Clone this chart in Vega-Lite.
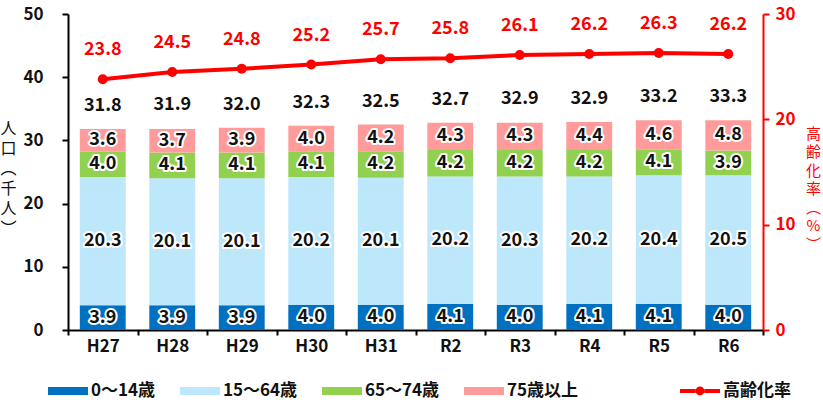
{
  "$schema": "https://vega.github.io/schema/vega-lite/v6.json",
  "width": 695,
  "height": 316,
  "autosize": {"type": "none"},
  "padding": {"left": 68, "top": 14, "right": 60, "bottom": 80},
  "background": "white",
  "config": {
    "view": {"stroke": null},
    "font": "Noto Sans CJK JP",
    "axis": {"grid": false, "labelFont": "Noto Sans CJK JP", "labelFontWeight": "bold", "labelFontSize": 17, "labelColor": "#111", "domainColor": "#000", "domainWidth": 2, "tickColor": "#000", "tickWidth": 2, "titleFont": "Noto Sans CJK JP"},
    "legend": {"labelFont": "Noto Sans CJK JP", "labelFontWeight": "bold", "labelFontSize": 17, "labelColor": "#111"}
  },
  "datasets": {
    "pop": [
      {"year": "H27", "group": "0～14歳", "ord": 1, "value": 3.9},
      {"year": "H27", "group": "15～64歳", "ord": 2, "value": 20.3},
      {"year": "H27", "group": "65～74歳", "ord": 3, "value": 4.0},
      {"year": "H27", "group": "75歳以上", "ord": 4, "value": 3.6},
      {"year": "H28", "group": "0～14歳", "ord": 1, "value": 3.9},
      {"year": "H28", "group": "15～64歳", "ord": 2, "value": 20.1},
      {"year": "H28", "group": "65～74歳", "ord": 3, "value": 4.1},
      {"year": "H28", "group": "75歳以上", "ord": 4, "value": 3.7},
      {"year": "H29", "group": "0～14歳", "ord": 1, "value": 3.9},
      {"year": "H29", "group": "15～64歳", "ord": 2, "value": 20.1},
      {"year": "H29", "group": "65～74歳", "ord": 3, "value": 4.1},
      {"year": "H29", "group": "75歳以上", "ord": 4, "value": 3.9},
      {"year": "H30", "group": "0～14歳", "ord": 1, "value": 4.0},
      {"year": "H30", "group": "15～64歳", "ord": 2, "value": 20.2},
      {"year": "H30", "group": "65～74歳", "ord": 3, "value": 4.1},
      {"year": "H30", "group": "75歳以上", "ord": 4, "value": 4.0},
      {"year": "H31", "group": "0～14歳", "ord": 1, "value": 4.0},
      {"year": "H31", "group": "15～64歳", "ord": 2, "value": 20.1},
      {"year": "H31", "group": "65～74歳", "ord": 3, "value": 4.2},
      {"year": "H31", "group": "75歳以上", "ord": 4, "value": 4.2},
      {"year": "R2", "group": "0～14歳", "ord": 1, "value": 4.1},
      {"year": "R2", "group": "15～64歳", "ord": 2, "value": 20.2},
      {"year": "R2", "group": "65～74歳", "ord": 3, "value": 4.2},
      {"year": "R2", "group": "75歳以上", "ord": 4, "value": 4.3},
      {"year": "R3", "group": "0～14歳", "ord": 1, "value": 4.0},
      {"year": "R3", "group": "15～64歳", "ord": 2, "value": 20.3},
      {"year": "R3", "group": "65～74歳", "ord": 3, "value": 4.2},
      {"year": "R3", "group": "75歳以上", "ord": 4, "value": 4.3},
      {"year": "R4", "group": "0～14歳", "ord": 1, "value": 4.1},
      {"year": "R4", "group": "15～64歳", "ord": 2, "value": 20.2},
      {"year": "R4", "group": "65～74歳", "ord": 3, "value": 4.2},
      {"year": "R4", "group": "75歳以上", "ord": 4, "value": 4.4},
      {"year": "R5", "group": "0～14歳", "ord": 1, "value": 4.1},
      {"year": "R5", "group": "15～64歳", "ord": 2, "value": 20.4},
      {"year": "R5", "group": "65～74歳", "ord": 3, "value": 4.1},
      {"year": "R5", "group": "75歳以上", "ord": 4, "value": 4.6},
      {"year": "R6", "group": "0～14歳", "ord": 1, "value": 4.0},
      {"year": "R6", "group": "15～64歳", "ord": 2, "value": 20.5},
      {"year": "R6", "group": "65～74歳", "ord": 3, "value": 3.9},
      {"year": "R6", "group": "75歳以上", "ord": 4, "value": 4.8}
    ],
    "tot": [
      {"year": "H27", "total": 31.8, "rate": 23.8},
      {"year": "H28", "total": 31.9, "rate": 24.5},
      {"year": "H29", "total": 32.0, "rate": 24.8},
      {"year": "H30", "total": 32.3, "rate": 25.2},
      {"year": "H31", "total": 32.5, "rate": 25.7},
      {"year": "R2", "total": 32.7, "rate": 25.8},
      {"year": "R3", "total": 32.9, "rate": 26.1},
      {"year": "R4", "total": 32.9, "rate": 26.2},
      {"year": "R5", "total": 33.2, "rate": 26.3},
      {"year": "R6", "total": 33.3, "rate": 26.2}
    ]
  },
  "encoding": {
    "x": {
      "field": "year", "type": "nominal",
      "sort": ["H27","H28","H29","H30","H31","R2","R3","R4","R5","R6"],
      "scale": {"paddingInner": 0, "paddingOuter": 0},
      "axis": {"title": null, "labelAngle": 0, "tickBand": "extent", "tickSize": 5, "labelPadding": 3}
    }
  },
  "layer": [
    {
      "data": {"name": "pop"},
      "transform": [
        {"stack": "value", "groupby": ["year"], "sort": [{"field": "ord", "order": "ascending"}], "as": ["y0", "y1"]},
        {"calculate": "(datum.y0 + datum.y1) / 2", "as": "mid"}
      ],
      "layer": [
        {
          "mark": {"type": "bar", "width": {"band": 0.66}},
          "encoding": {
            "y": {"field": "y0", "type": "quantitative", "scale": {"domain": [0, 50]},
              "axis": {"orient": "left", "values": [0,10,20,30,40,50], "tickSize": 6, "labelPadding": 19,
                "title": ["人","口","︵","千","人","︶"], "titleAngle": 0, "titleAlign": "center", "titleBaseline": "top",
                "titleX": -60, "titleY": 106, "titleFontSize": 16, "titleLineHeight": 20, "titleFontWeight": "normal", "titleColor": "#111"}},
            "y2": {"field": "y1"},
            "color": {
              "field": "group", "type": "nominal",
              "scale": {"domain": ["0～14歳","15～64歳","65～74歳","75歳以上"], "range": ["#0070C0","#BDE7FB","#92D050","#FF9B9B"]},
              "legend": {"orient": "none", "legendX": -20, "legendY": 357, "direction": "horizontal", "title": null,
                "symbolType": "M-1,-0.2H1V0.2H-1Z", "symbolSize": 1600, "symbolStrokeWidth": 0, "labelOffset": 3, "columnPadding": 24}
            },
            "order": {"field": "ord"}
          }
        },
        {
          "mark": {"type": "text", "fontSize": 18, "fontWeight": "bold", "stroke": "white", "strokeWidth": 4, "strokeJoin": "round", "fill": "white", "baseline": "middle"},
          "encoding": {"y": {"field": "mid", "type": "quantitative"}, "text": {"field": "value", "type": "quantitative", "format": ".1f"}}
        },
        {
          "mark": {"type": "text", "fontSize": 18, "fontWeight": "bold", "color": "#111", "baseline": "middle"},
          "encoding": {"y": {"field": "mid", "type": "quantitative"}, "text": {"field": "value", "type": "quantitative", "format": ".1f"}}
        },
        {
          "data": {"name": "tot"},
          "mark": {"type": "text", "fontSize": 18, "fontWeight": "bold", "color": "#111", "baseline": "middle", "dy": -23},
          "encoding": {"y": {"field": "total", "type": "quantitative"}, "text": {"field": "total", "type": "quantitative", "format": ".1f"}}
        }
      ]
    },
    {
      "data": {"name": "tot"},
      "layer": [
        {
          "mark": {"type": "line", "strokeWidth": 4},
          "encoding": {
            "y": {"field": "rate", "type": "quantitative", "scale": {"domain": [0, 30]},
              "axis": {"orient": "right", "values": [0,10,20,30], "tickSize": 6, "labelPadding": 6,
                "domainColor": "#ff0000", "tickColor": "#ff0000", "labelColor": "#ff0000",
                "title": ["高","齢","化","率","︵","%","︶"], "titleAngle": 0, "titleAlign": "center", "titleBaseline": "top",
                "titleX": 50, "titleY": 112, "titleFontSize": 15, "titleLineHeight": 18.5, "titleFontWeight": "normal", "titleColor": "#ff0000"}},
            "stroke": {
              "datum": "高齢化率", "type": "nominal",
              "scale": {"range": ["#ff0000"]},
              "legend": {"orient": "none", "legendX": 612, "legendY": 357, "title": null,
                "symbolType": "M-1,-0.1H-0.22V0.1H-1Z M0.22,-0.1H1V0.1H0.22Z M0.22,0A0.22,0.22 0 1 1 -0.22,0A0.22,0.22 0 1 1 0.22,0Z",
                "symbolSize": 1600, "labelOffset": 3,
                "encode": {"symbols": {"update": {"fill": {"value": "#ff0000"}, "strokeWidth": {"value": 0}}}}}
            }
          }
        },
        {
          "mark": {"type": "point", "filled": true, "color": "#ff0000", "size": 100, "opacity": 1},
          "encoding": {"y": {"field": "rate", "type": "quantitative"}}
        },
        {
          "mark": {"type": "text", "fontSize": 18, "fontWeight": "bold", "color": "#ff0000", "baseline": "middle", "dy": -29},
          "encoding": {"y": {"field": "rate", "type": "quantitative"}, "text": {"field": "rate", "type": "quantitative", "format": ".1f"}}
        }
      ]
    }
  ],
  "resolve": {"scale": {"y": "independent", "color": "independent", "stroke": "independent"}}
}
